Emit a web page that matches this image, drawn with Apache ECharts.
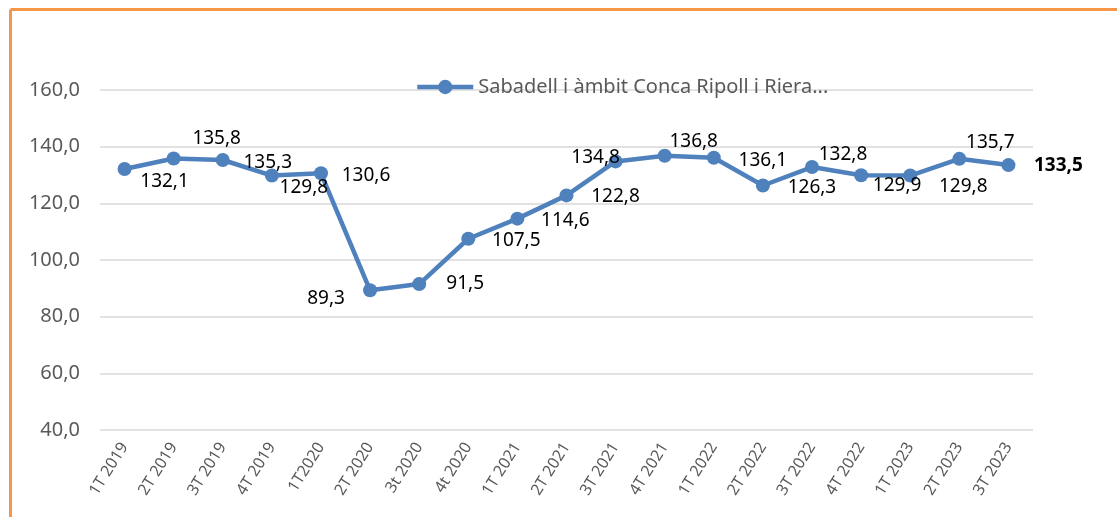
<!DOCTYPE html>
<html>
<head>
<meta charset="utf-8">
<script src="https://cdn.jsdelivr.net/npm/echarts@6/dist/echarts.min.js"></script>
<style>
  html, body { margin: 0; padding: 0; background: #fff; }
  #chart { width: 1117px; height: 517px; }
</style>
</head>
<body>
<div id="chart"></div>
<script>
  // trimestres
  var categories = ['1T 2019', '2T 2019', '3T 2019', '4T 2019', '1T2020', '2T 2020', '3t 2020', '4t 2020',
    '1T 2021', '2T 2021', '3T 2021', '4T 2021', '1T 2022', '2T 2022', '3T 2022', '4T 2022',
    '1T 2023', '2T 2023', '3T 2023'];
  var values = [132.1, 135.8, 135.3, 129.8, 130.6, 89.3, 91.5, 107.5, 114.6, 122.8,
    134.8, 136.8, 136.1, 126.3, 132.8, 129.9, 129.8, 135.7, 133.5];
  var seriesName = 'Sabadell i àmbit Conca Ripoll i Riera...';
  var yTicks = { min: 40, max: 160, interval: 20 };

  // desplaçament de cada etiqueta (com a l'original d'Excel)
  var labelOffsets = [[40, 13], [43, -20], [45, 3], [32, 12], [45, 2], [-44, 8], [46, 0], [48, 2], [48, 2],
    [49, 1], [-20, -4], [29, -14], [49, 3], [49, 2], [31, -12], [36, 10], [53, 11], [31, -16], [50, 1]];

  function fmt(v) {
    return v.toFixed(1).replace('.', ',');
  }

  var chart = echarts.init(document.getElementById('chart'));

  var seriesData = values.map(function (v, i) {
    var last = i === values.length - 1;
    return {
      value: v,
      label: {
        offset: labelOffsets[i],
        fontWeight: last ? 'bold' : 'normal'
      }
    };
  });

  chart.setOption({
    animation: false,
    textStyle: { fontFamily: 'Noto Sans' },
    grid: { left: 100, right: 84, top: 90, bottom: 87 },
    legend: {
      top: 72,
      left: 410,
      itemWidth: 56,
      itemHeight: 18,
      itemGap: 4,
      lineStyle: { width: 4.5 },
      textStyle: { color: '#595959', fontSize: 20 },
      data: [seriesName]
    },
    xAxis: {
      type: 'category',
      data: categories,
      axisLine: { show: false },
      axisTick: { show: false },
      axisLabel: {
        rotate: 58,
        color: '#595959',
        fontSize: 16,
        margin: 14,
        interval: 0
      }
    },
    yAxis: {
      type: 'value',
      min: yTicks.min,
      max: yTicks.max,
      interval: yTicks.interval,
      axisLine: { show: false },
      axisTick: { show: false },
      axisLabel: {
        color: '#595959',
        fontSize: 20,
        margin: 20,
        formatter: function (v) { return fmt(v); }
      },
      splitLine: { lineStyle: { color: '#d9d9d9', width: 1.5 } }
    },
    series: [{
      name: seriesName,
      type: 'line',
      data: seriesData,
      symbol: 'circle',
      symbolSize: 14,
      lineStyle: { color: '#4f81bd', width: 4.5 },
      itemStyle: { color: '#4f81bd' },
      label: {
        show: true,
        position: 'inside',
        color: '#000',
        fontSize: 19,
        formatter: function (p) { return fmt(p.value); }
      }
    }],
    graphic: [
      { type: 'line', shape: { x1: 10.5, y1: 9.5, x2: 1117, y2: 9.5 }, style: { stroke: '#f79646', lineWidth: 3 } },
      { type: 'line', shape: { x1: 10.5, y1: 9.5, x2: 10.5, y2: 517 }, style: { stroke: '#f79646', lineWidth: 3 } }
    ]
  });
</script>
</body>
</html>
